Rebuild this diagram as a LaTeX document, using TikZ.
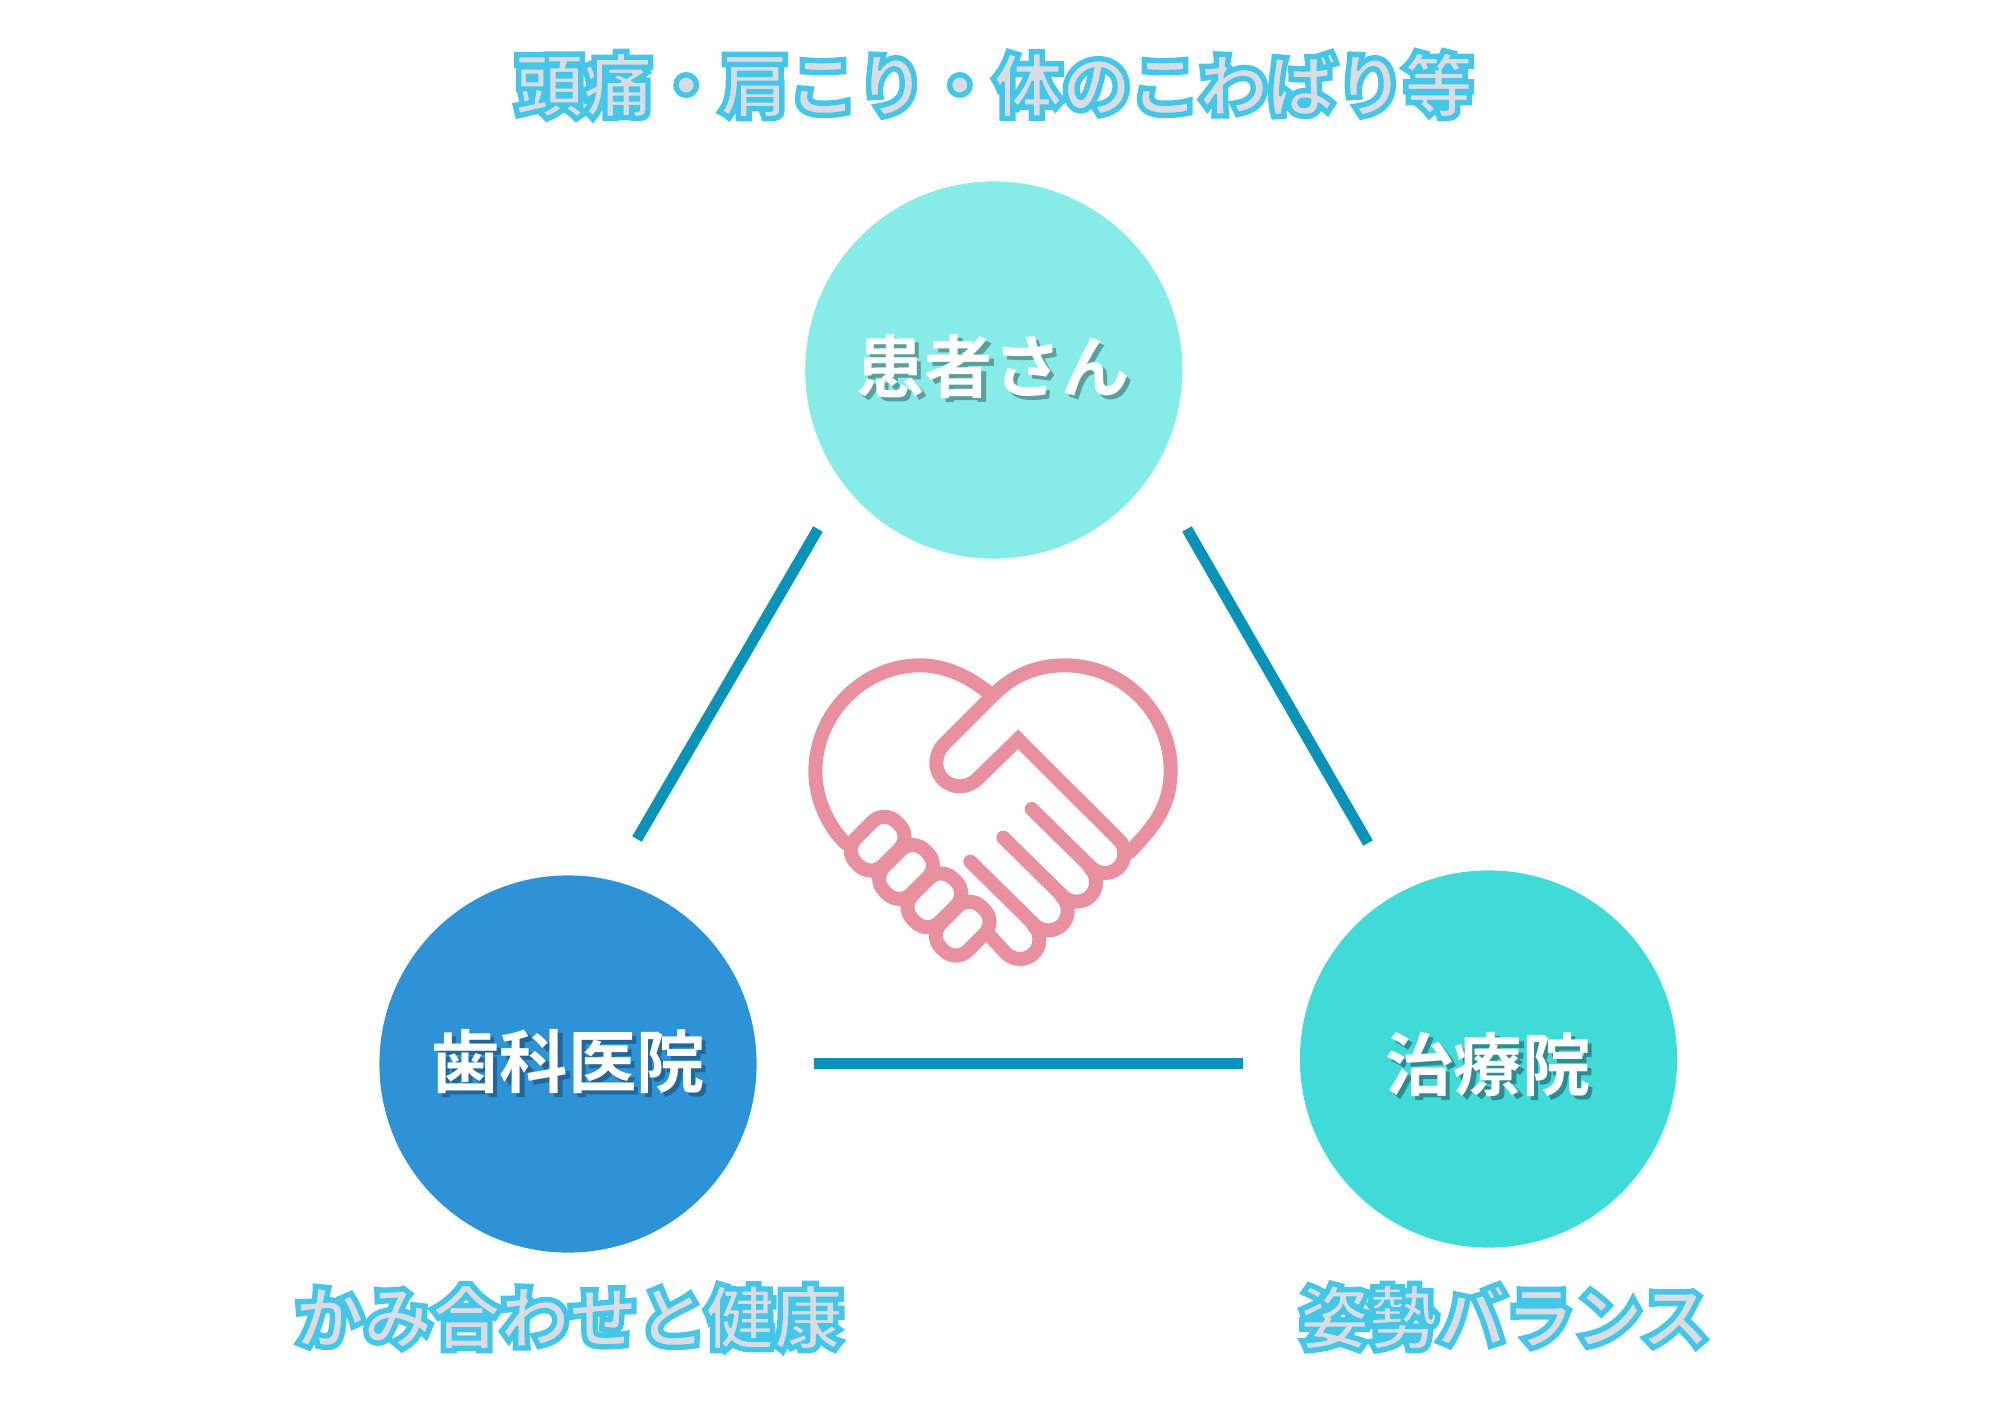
\documentclass[tikz,border=0pt]{standalone}
\usepackage{fontspec}
\newfontfamily\cjk{Noto Sans CJK JP}[BoldFont={Noto Sans CJK JP Bold}]
\definecolor{topc}{HTML}{87EBE7}
\definecolor{leftc}{HTML}{2D92D6}
\definecolor{rightc}{HTML}{40DBD8}
\definecolor{linkc}{HTML}{0A93B8}
\definecolor{pinkc}{HTML}{E8909F}
\definecolor{shadea}{HTML}{5A9E9E}
\definecolor{shadeb}{HTML}{22669A}
\definecolor{shadec}{HTML}{2F8B93}
\newcommand{\outlined}[1]{\rlap{\special{pdf:code 1 Tr 4.2 w 3 M 0.27 0.776 0.914 RG}#1\special{pdf:code 0 Tr}}\special{pdf:code 2 Tr 1.2 w 3 M 0.27 0.776 0.914 RG 0.847 0.867 0.89 rg}#1\special{pdf:code 0 Tr}}
\newcommand{\dropped}[2]{\rlap{\kern2.2pt\raisebox{-2.2pt}{\textcolor{#1}{#2}}}#2}
\tikzset{
  disc/.style={circle,inner sep=0pt,minimum size=188.6pt},
  link/.style={draw=linkc,line width=5.5pt},
  word/.style={anchor=base,inner sep=0pt,font=\cjk\bfseries\fontsize{34.2pt}{34.2pt}\selectfont,text=white},
  blueword/.style={anchor=base,inner sep=0pt,font=\cjk\bfseries\fontsize{34.2pt}{34.2pt}\selectfont},
  hand/.style={draw=pinkc,line width=7pt,line join=miter,line cap=round}
}
\begin{document}
\begin{tikzpicture}[x=0.5pt,y=-0.5pt]
\useasboundingbox (0,0) rectangle (2000,1414);
\node[disc,fill=topc] (patient) at (993.8,370) {};
\node[disc,fill=leftc] (dental) at (568,1064) {};
\node[disc,fill=rightc] (clinic) at (1488.5,1059) {};
\coordinate (a1) at (818,529); \coordinate (a2) at (637,839);
\coordinate (b1) at (1187,529); \coordinate (b2) at (1368,843);
\coordinate (c1) at (814,1063); \coordinate (c2) at (1243,1063);
\draw[link] (a1) -- (a2);
\draw[link] (b1) -- (b2);
\draw[link] (c1) -- (c2);
% labels
\node[word] (t1) at (993,392) {\dropped{shadea}{患者さん}};
\node[word] (t2) at (568,1087) {\dropped{shadeb}{歯科医院}};
\node[word] (t3) at (1488,1090) {\dropped{shadec}{治療院}};
\node[blueword] (h1) at (994,111) {\outlined{頭痛・肩こり・体のこわばり等}};
\node[blueword] (h2) at (569,1343) {\outlined{かみ合わせと健康}};
\node[blueword] (h3) at (1505,1343) {\outlined{姿勢バランス}};
% handshake, in crop coordinates
\begin{scope}[shift={(780,630)},x=0.5pt/3,y=-0.5pt/3]
\draw[hand] (622,185) .. controls (560,135) and (490,106) .. (420,106)
  .. controls (250,106) and (106,250) .. (106,425)
  .. controls (106,500) and (140,585) .. (197,640);
\draw[hand] (1050,665) .. controls (1110,600) and (1172,540) .. (1172,420)
  .. controls (1172,250) and (1030,106) .. (855,106)
  .. controls (770,106) and (700,135) .. (640,195)
  -- (490,345) .. controls (476,359) and (469,379) .. (469,400)
  .. controls (469,438) and (500,469) .. (540,469)
  .. controls (560,469) and (578,460) .. (592,447)
  -- (714,328) -- (1016,629)
  .. controls (1030,643) and (1033,655) .. (1033,672)
  .. controls (1033,704) and (1007,729) .. (975,729)
  .. controls (958,729) and (944,722) .. (934,713) -- (755,537);
\draw[hand] (931,715) .. controls (945,729) and (948,741) .. (948,758)
  .. controls (948,790) and (922,815) .. (890,815)
  .. controls (873,815) and (859,808) .. (849,799) -- (670,623);
\draw[hand] (846,801) .. controls (860,815) and (863,827) .. (863,844)
  .. controls (863,876) and (837,901) .. (805,901)
  .. controls (788,901) and (774,894) .. (764,885) -- (571,695);
\draw[hand] (761,887) .. controls (775,901) and (778,913) .. (778,930)
  .. controls (778,962) and (752,987) .. (720,987)
  .. controls (703,987) and (689,980) .. (679,971) -- (632,920);
\foreach \k in {0,1,2,3}{
  \draw[hand,rounded corners=8.5pt,shift={(85*\k,85*\k)}]
    (191.3,661.3) -- (313.3,539.3) -- (394.7,620.7) -- (272.7,742.7) -- cycle;
}
\end{scope}
\end{tikzpicture}
\end{document}
